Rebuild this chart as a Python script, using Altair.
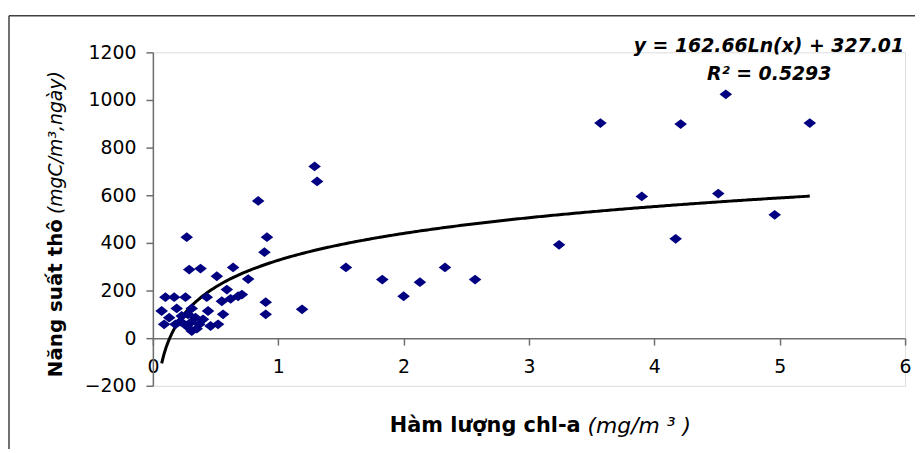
import altair as alt
import pandas as pd

# ---- data ----
chl_a = [0.07, 0.09, 0.10, 0.13, 0.17, 0.18, 0.19, 0.22, 0.23, 0.26,
         0.27, 0.27, 0.28, 0.29, 0.30, 0.31, 0.31, 0.34, 0.35, 0.37,
         0.38, 0.40, 0.43, 0.44, 0.46, 0.51, 0.52, 0.55, 0.56, 0.59,
         0.62, 0.64, 0.68, 0.71, 0.76, 0.84, 0.89, 0.90, 0.90, 0.91,
         1.19, 1.29, 1.31, 1.54, 1.83, 2.00, 2.13, 2.33, 2.57, 3.24,
         3.57, 3.90, 4.17, 4.21, 4.51, 4.57, 4.96, 5.24]
nang_suat = [114, 58, 172, 86, 172, 58, 125, 70, 93, 172,
             51, 424, 100, 288, 65, 125, 30, 86, 40, 58,
             292, 79, 172, 114, 51, 260, 58, 155, 100, 204,
             165, 297, 176, 183, 248, 576, 361, 151, 100, 424,
             121, 721, 658, 297, 246, 176, 235, 297, 246, 392,
             903, 595, 417, 899, 607, 1024, 518, 903]

trend_coef = [162.66, 327.01]          # y = a*Ln(x) + b
r_squared = "0.5293"
x_ticks = [0, 1, 2, 3, 4, 5, 6]
y_ticks = [-200, 0, 200, 400, 600, 800, 1000, 1200]

eq_text = "y = 162.66Ln(x) + 327.01"
r2_text = "R² = " + r_squared
y_title_bold = "Năng suất thô"
y_title_ital = "(mgC/m³,ngày)"
x_title_bold = "Hàm lượng chl-a"
x_title_ital = "(mg/m ³ )"

W, H = 758, 336
FONT = "DejaVu Sans"
AXIS_COLOR = "#6e6e6e"

df = pd.DataFrame({"x": chl_a, "y": nang_suat})
one = pd.DataFrame({"k": [0]})

xscale = alt.Scale(domain=[0, 6], nice=False, zero=False)
yscale = alt.Scale(domain=[-200, 1200], nice=False, zero=False)

points = alt.Chart(df).mark_point(
    shape="M-1,0L0,-0.78L1,0L0,0.78Z", filled=True, opacity=1,
    color="#000080", size=160, strokeWidth=0
).encode(
    x=alt.X("x:Q", scale=xscale, axis=alt.Axis(
        values=x_ticks, title=None, grid=False, offset=-48,
        domainColor=AXIS_COLOR, tickColor=AXIS_COLOR, domainWidth=1.5, tickWidth=1.5,
        tickSize=7, labelPadding=13, labelFontSize=19, labelFont=FONT,
        labelColor="#000000", format="d", labelFlush=False)),
    y=alt.Y("y:Q", scale=yscale, axis=alt.Axis(
        values=y_ticks, title=None, grid=False,
        domainColor=AXIS_COLOR, tickColor=AXIS_COLOR, domainWidth=1.5, tickWidth=1.5,
        tickSize=7, labelPadding=10, labelFontSize=19, labelFont=FONT,
        labelColor="#000000", format="d")),
)

x_min, x_max = min(chl_a), max(chl_a)
a, b = trend_coef
trend = alt.Chart(alt.sequence(0, 301, 1, as_="i")).transform_calculate(
    x=f"{x_min} + datum.i*({x_max}-{x_min})/300"
).transform_calculate(
    y=f"{a}*log(datum.x) + {b}"
).mark_line(color="#000000", strokeWidth=3).encode(
    x=alt.X("x:Q", scale=xscale),
    y=alt.Y("y:Q", scale=yscale),
)

def label(text, x, y, size, weight="normal", style="normal", align="center", angle=0):
    return alt.Chart(one).mark_text(
        font=FONT, fontSize=size, fontWeight=weight, fontStyle=style,
        align=align, baseline="middle", angle=angle, color="#000000"
    ).encode(x=alt.value(x), y=alt.value(y), text=alt.value(text))

eq = label(eq_text, 757, -6, 19, "bold", "italic", "right")
r2 = label(r2_text, 621, 22, 19, "bold", "italic", "center")

yt1 = label(y_title_bold, -98, 168, 20, "bold", "normal", "right", 270)
yt2 = label(y_title_ital, -98, 163, 19, "normal", "italic", "left", 270)
xt1 = label(x_title_bold, 431, 377, 21, "bold", "normal", "right")
xt2 = label(x_title_ital, 438, 377, 22, "normal", "italic", "left")

border_left = alt.Chart(one).mark_rule(color="#404040", strokeWidth=1.5).encode(
    x=alt.value(-145), y=alt.value(-37), y2=alt.value(400))
border_top = alt.Chart(one).mark_rule(color="#404040", strokeWidth=1.5).encode(
    x=alt.value(-145), x2=alt.value(770), y=alt.value(-37))

chart = alt.layer(
    border_left, border_top, trend, points, eq, r2, yt1, yt2, xt1, xt2
).properties(
    width=W, height=H,
    autosize=alt.AutoSizeParams(type="none"),
    padding={"left": 146, "top": 43, "right": 10, "bottom": 62},
).configure_view(stroke=None).configure(font=FONT)

chart.save("out.html", embed_options={"renderer": "svg", "actions": False})
